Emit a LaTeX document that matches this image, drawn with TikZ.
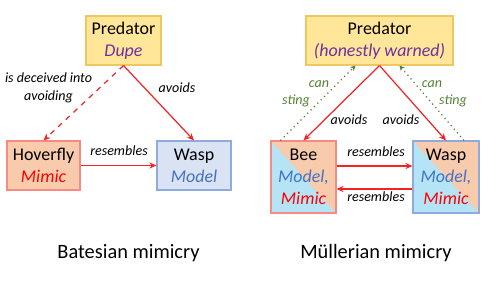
\documentclass[tikz,border=0pt]{standalone}
\usepackage{fontspec}
\setmainfont{Carlito}
\usetikzlibrary{arrows.meta}
\definecolor{predfill}{HTML}{FFE699}
\definecolor{preddraw}{HTML}{EEC75E}
\definecolor{mimfill}{HTML}{F8CBAD}
\definecolor{mimdraw}{HTML}{F88A84}
\definecolor{modfill}{HTML}{DAE3F3}
\definecolor{moddraw}{HTML}{8FAADC}
\definecolor{skyfill}{HTML}{B4E4F6}
\definecolor{dupecol}{HTML}{7030A0}
\definecolor{modelcol}{HTML}{4472C4}
\definecolor{mimiccol}{HTML}{FF0000}
\definecolor{arrcol}{HTML}{F52424}
\definecolor{stingcol}{HTML}{548235}

\tikzset{
  box/.style={draw, line width=0.6pt, align=center, inner sep=0pt,
    font=\fontsize{10.2}{12.5}\selectfont},
  lbl/.style={font=\fontsize{8}{10}\selectfont\itshape},
  arr/.style={-{Stealth[length=4pt,width=3.5pt]}, arrcol, line width=0.7pt},
  stingarr/.style={-{Stealth[length=3pt,width=3pt]}, stingcol, dotted, line width=0.7pt},
  title/.style={font=\fontsize{11.6}{14}\selectfont},
  halves/.style={path picture={
    \fill[skyfill] (path picture bounding box.north west) rectangle (path picture bounding box.south east);
    \fill[mimfill] (path picture bounding box.north west) -- (path picture bounding box.north east)
      -- (path picture bounding box.south east) -- cycle;}}
}

\begin{document}
\begin{tikzpicture}[x=0.02cm, y=-0.02cm]
    \useasboundingbox (0,0) rectangle (500,282);

    % Batesian
    \node[box, fill=predfill, draw=preddraw, minimum width=75*0.02cm, minimum height=49*0.02cm]
      (pred1) at (123.5,40.5) {Predator\\\textcolor{dupecol}{\itshape Dupe}};
    \node[box, fill=mimfill, draw=mimdraw, minimum width=73*0.02cm, minimum height=49*0.02cm]
      (hover) at (43.5,165.5) {Hoverfly\\\textcolor{mimiccol}{\itshape Mimic}};
    \node[box, fill=modfill, draw=moddraw, minimum width=74*0.02cm, minimum height=49*0.02cm]
      (wasp1) at (194,165.5) {Wasp\\\textcolor{modelcol}{\itshape Model}};

    \draw[arr, dashed] (pred1.south) -- (hover.north);
    \draw[arr] (pred1.south) -- (wasp1.north);
    \draw[arr] (hover.east) -- (wasp1.west);

    \node[lbl, align=center] (deceive) at (48.5,88) {is deceived into\\avoiding};
    \node[lbl] (avoid1) at (177,88) {avoids};
    \node[lbl] (resem1) at (119,151) {resembles};
    \node[title] (bates) at (128.5,253) {Batesian mimicry};

    % Muellerian
    \node[box, fill=predfill, draw=preddraw, minimum width=147*0.02cm, minimum height=49*0.02cm]
      (pred2) at (379.5,40.5) {Predator\\\textcolor{dupecol}{\itshape (honestly warned)}};
    \node[box, halves, draw=mimdraw, minimum width=65*0.02cm, minimum height=72*0.02cm]
      (bee) at (303.5,177) {Bee\\\textcolor{modelcol}{\itshape Model,}\\\textcolor{mimiccol}{\itshape Mimic}};
    \node[box, halves, draw=moddraw, minimum width=66*0.02cm, minimum height=72*0.02cm]
      (wasp2) at (446,177) {Wasp\\\textcolor{modelcol}{\itshape Model,}\\\textcolor{mimiccol}{\itshape Mimic}};

    \draw[arr] (pred2.south) -- (bee.north);
    \draw[arr] (pred2.south) -- (wasp2.north);
    \draw[stingarr] ([xshift=10*0.02cm]bee.north west) -- ([xshift=-24*0.02cm]pred2.south);
    \draw[stingarr] ([xshift=18*0.02cm]wasp2.north) -- ([xshift=20*0.02cm]pred2.south);
    \draw[arr] ([yshift=11*0.02cm]bee.east) -- ([yshift=11*0.02cm]wasp2.west);
    \draw[arr] ([yshift=-12*0.02cm]wasp2.west) -- ([yshift=-12*0.02cm]bee.east);

    \node[lbl] (avoid2) at (349,120) {avoids};
    \node[lbl] (avoid3) at (401,120) {avoids};
    \node[lbl, stingcol] (can1) at (319,84) {can};
    \node[lbl, stingcol] (sting1) at (296,101) {sting};
    \node[lbl, stingcol] (can2) at (432,84) {can};
    \node[lbl, stingcol] (sting2) at (453,101) {sting};
    \node[lbl] (resem2) at (376,152) {resembles};
    \node[lbl] (resem3) at (376,197) {resembles};
    \node[title] (muller) at (376,253) {Müllerian mimicry};
\end{tikzpicture}
\end{document}
